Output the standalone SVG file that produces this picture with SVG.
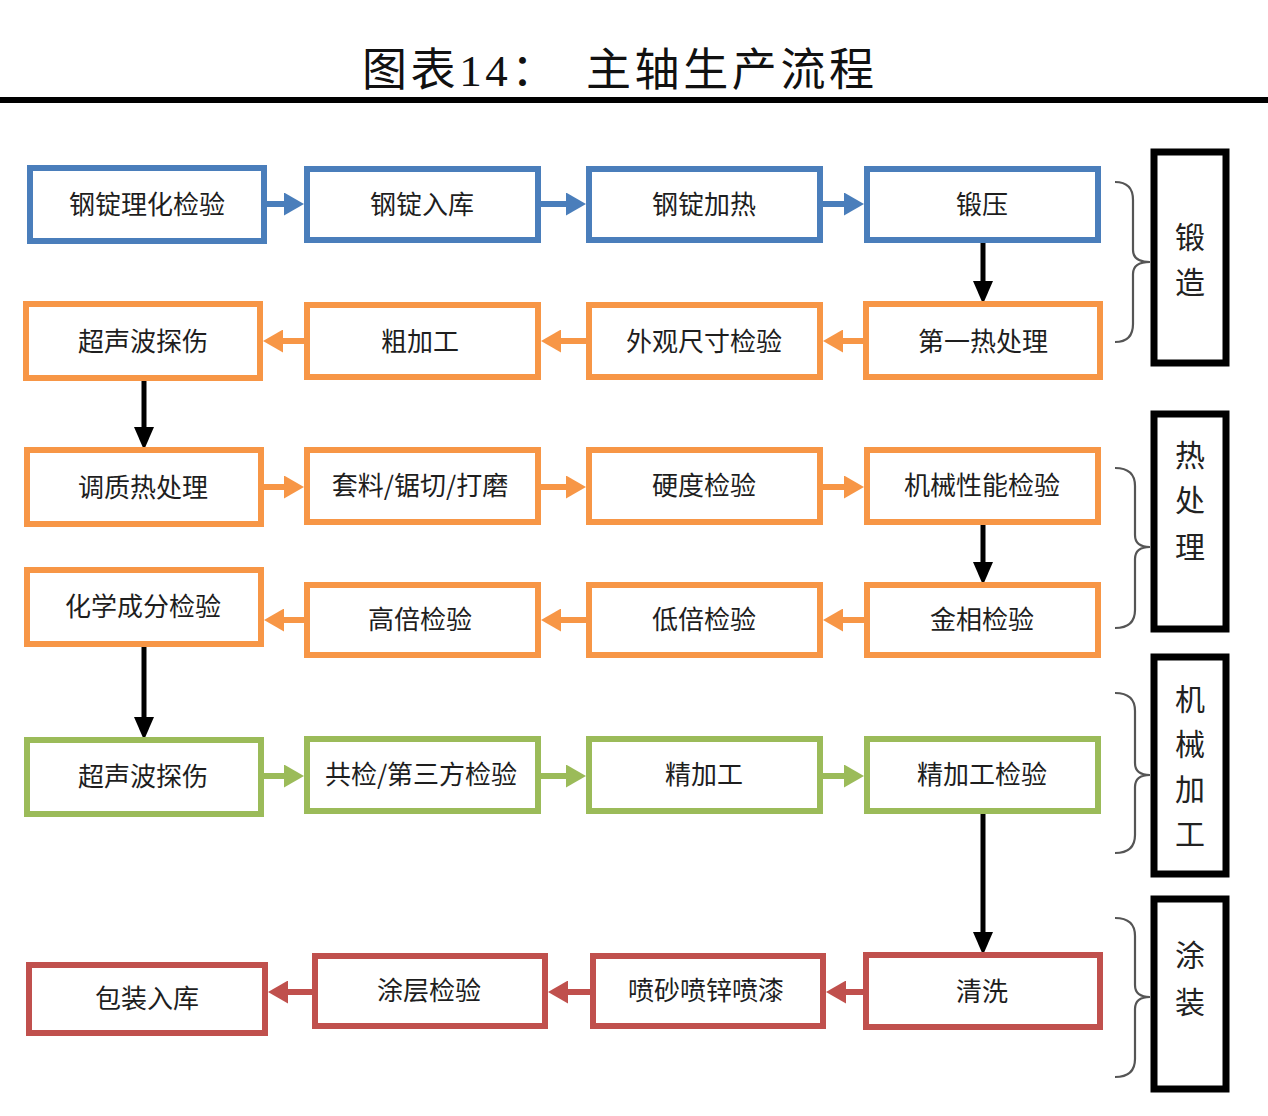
<svg xmlns="http://www.w3.org/2000/svg" width="1268" height="1116" viewBox="0 0 1268 1116">
<style>
.bx{fill:#fff;stroke-width:6}
.b{stroke:#4A7EBB}.o{stroke:#F79646}.g{stroke:#9BBB59}.r{stroke:#C0504D}
.t{font-family:"Noto Sans CJK SC","Noto Sans",sans-serif;font-size:26px;fill:#1e1e1e;text-anchor:middle}
.s{font-family:"Noto Sans CJK SC","Noto Sans",sans-serif;font-size:30px;fill:#222;text-anchor:middle}
.sb{fill:#fff;stroke:#000;stroke-width:7}
.br{fill:none;stroke:#555;stroke-width:2.2}
.ab{stroke:#4A7EBB;stroke-width:6;fill:none;marker-end:url(#mb)}
.ao{stroke:#F79646;stroke-width:6;fill:none;marker-end:url(#mo)}
.ag{stroke:#9BBB59;stroke-width:6;fill:none;marker-end:url(#mg)}
.ar{stroke:#C0504D;stroke-width:6;fill:none;marker-end:url(#mr)}
.ak{stroke:#000;stroke-width:5;fill:none;marker-end:url(#mk)}
</style>
<defs>
<marker id="mb" viewBox="0 0 20 23" refX="5" refY="11.5" markerWidth="20" markerHeight="23" markerUnits="userSpaceOnUse" orient="auto"><path d="M0,0 L20,11.5 L0,23 z" fill="#4A7EBB"/></marker>
<marker id="mo" viewBox="0 0 20 23" refX="5" refY="11.5" markerWidth="20" markerHeight="23" markerUnits="userSpaceOnUse" orient="auto"><path d="M0,0 L20,11.5 L0,23 z" fill="#F79646"/></marker>
<marker id="mg" viewBox="0 0 20 23" refX="5" refY="11.5" markerWidth="20" markerHeight="23" markerUnits="userSpaceOnUse" orient="auto"><path d="M0,0 L20,11.5 L0,23 z" fill="#9BBB59"/></marker>
<marker id="mr" viewBox="0 0 20 23" refX="5" refY="11.5" markerWidth="20" markerHeight="23" markerUnits="userSpaceOnUse" orient="auto"><path d="M0,0 L20,11.5 L0,23 z" fill="#C0504D"/></marker>
<marker id="mk" viewBox="0 0 23 20" refX="5" refY="10" markerWidth="23" markerHeight="20" markerUnits="userSpaceOnUse" orient="auto"><path d="M0,0 L23,10 L0,20 z" fill="#000"/></marker>
</defs>
<rect width="1268" height="1116" fill="#fff"/>
<g id="title">
<text x="362" y="86" textLength="512" lengthAdjust="spacing" font-family="Liberation Serif,'Noto Sans CJK SC',serif" font-size="45" fill="#111">图表14：　主轴生产流程</text>
<rect x="0" y="97" width="1268" height="6" fill="#000"/>
</g>
<g id="connectors">
<path class="ab" d="M267,204 H289"/>
<path class="ab" d="M541,204 H571"/>
<path class="ab" d="M823,204 H849"/>
<path class="ao" d="M864,341 H838"/>
<path class="ao" d="M586,341 H556"/>
<path class="ao" d="M304,341 H278"/>
<path class="ao" d="M264,487 H289"/>
<path class="ao" d="M541,487 H571"/>
<path class="ao" d="M823,487 H849"/>
<path class="ao" d="M864,620 H838"/>
<path class="ao" d="M586,620 H556"/>
<path class="ao" d="M304,620 H279"/>
<path class="ag" d="M264,776 H289"/>
<path class="ag" d="M541,776 H571"/>
<path class="ag" d="M823,776 H849"/>
<path class="ar" d="M863,992 H841"/>
<path class="ar" d="M590,992 H563"/>
<path class="ar" d="M312,992 H283"/>
<path class="ak" d="M983,242 V286"/>
<path class="ak" d="M144,381 V432"/>
<path class="ak" d="M983,525 V567"/>
<path class="ak" d="M144,647 V722"/>
<path class="ak" d="M983,814 V937"/>
</g>
<g id="n1"><rect class="bx b" x="30" y="168" width="234" height="73"/><text class="t" x="147" y="214">钢锭理化检验</text></g>
<g id="n2"><rect class="bx b" x="307" y="169" width="231" height="71"/><text class="t" x="422" y="214">钢锭入库</text></g>
<g id="n3"><rect class="bx b" x="589" y="169" width="231" height="71"/><text class="t" x="704" y="214">钢锭加热</text></g>
<g id="n4"><rect class="bx b" x="867" y="169" width="231" height="71"/><text class="t" x="982" y="214">锻压</text></g>
<g id="n5"><rect class="bx o" x="866" y="304" width="234" height="73"/><text class="t" x="983" y="351">第一热处理</text></g>
<g id="n6"><rect class="bx o" x="589" y="305" width="231" height="72"/><text class="t" x="704" y="351">外观尺寸检验</text></g>
<g id="n7"><rect class="bx o" x="307" y="305" width="231" height="72"/><text class="t" x="420" y="351">粗加工</text></g>
<g id="n8"><rect class="bx o" x="26" y="304" width="234" height="74"/><text class="t" x="143" y="351">超声波探伤</text></g>
<g id="n9"><rect class="bx o" x="27" y="450" width="234" height="74"/><text class="t" x="143" y="497">调质热处理</text></g>
<g id="n10"><rect class="bx o" x="307" y="450" width="231" height="72"/><text class="t" x="420" y="495">套料/锯切/打磨</text></g>
<g id="n11"><rect class="bx o" x="589" y="450" width="231" height="72"/><text class="t" x="704" y="495">硬度检验</text></g>
<g id="n12"><rect class="bx o" x="867" y="450" width="231" height="72"/><text class="t" x="982" y="495">机械性能检验</text></g>
<g id="n13"><rect class="bx o" x="867" y="585" width="231" height="70"/><text class="t" x="982" y="629">金相检验</text></g>
<g id="n14"><rect class="bx o" x="589" y="585" width="231" height="70"/><text class="t" x="704" y="629">低倍检验</text></g>
<g id="n15"><rect class="bx o" x="307" y="585" width="231" height="70"/><text class="t" x="420" y="629">高倍检验</text></g>
<g id="n16"><rect class="bx o" x="27" y="570" width="234" height="74"/><text class="t" x="143" y="616">化学成分检验</text></g>
<g id="n17"><rect class="bx g" x="27" y="740" width="234" height="74"/><text class="t" x="143" y="786">超声波探伤</text></g>
<g id="n18"><rect class="bx g" x="307" y="739" width="231" height="72"/><text class="t" x="421" y="784">共检/第三方检验</text></g>
<g id="n19"><rect class="bx g" x="589" y="739" width="231" height="72"/><text class="t" x="704" y="784">精加工</text></g>
<g id="n20"><rect class="bx g" x="867" y="739" width="231" height="72"/><text class="t" x="982" y="784">精加工检验</text></g>
<g id="n21"><rect class="bx r" x="866" y="955" width="234" height="72"/><text class="t" x="982" y="1001">清洗</text></g>
<g id="n22"><rect class="bx r" x="593" y="956" width="230" height="70"/><text class="t" x="706" y="1000">喷砂喷锌喷漆</text></g>
<g id="n23"><rect class="bx r" x="315" y="956" width="230" height="70"/><text class="t" x="429" y="1000">涂层检验</text></g>
<g id="n24"><rect class="bx r" x="29" y="965" width="236" height="68"/><text class="t" x="147" y="1008">包装入库</text></g>
<g id="s1"><rect class="sb" x="1154" y="152" width="72" height="211"/><text class="s" x="1190" y="248">锻</text><text class="s" x="1190" y="293">造</text>
<path class="br" d="M1115,182 Q1133,182 1133,200 L1133,250 Q1133,262 1150,262 Q1133,262 1133,274 L1133,324 Q1133,342 1115,342"/></g>
<g id="s2"><rect class="sb" x="1154" y="414" width="72" height="215"/><text class="s" x="1190" y="466">热</text><text class="s" x="1190" y="511">处</text><text class="s" x="1190" y="558">理</text>
<path class="br" d="M1115,468 Q1135,468 1135,486 L1135,535 Q1135,547 1150,547 Q1135,547 1135,559 L1135,610 Q1135,628 1115,628"/></g>
<g id="s3"><rect class="sb" x="1154" y="657" width="72" height="217"/><text class="s" x="1190" y="710">机</text><text class="s" x="1190" y="755">械</text><text class="s" x="1190" y="800">加</text><text class="s" x="1190" y="845">工</text>
<path class="br" d="M1115,693 Q1135,693 1135,711 L1135,763 Q1135,775 1150,775 Q1135,775 1135,787 L1135,835 Q1135,853 1115,853"/></g>
<g id="s4"><rect class="sb" x="1154" y="899" width="72" height="190"/><text class="s" x="1190" y="966">涂</text><text class="s" x="1190" y="1013">装</text>
<path class="br" d="M1115,918 Q1135,918 1135,936 L1135,985 Q1135,997 1150,997 Q1135,997 1135,1009 L1135,1059 Q1135,1077 1115,1077"/></g>
</svg>
